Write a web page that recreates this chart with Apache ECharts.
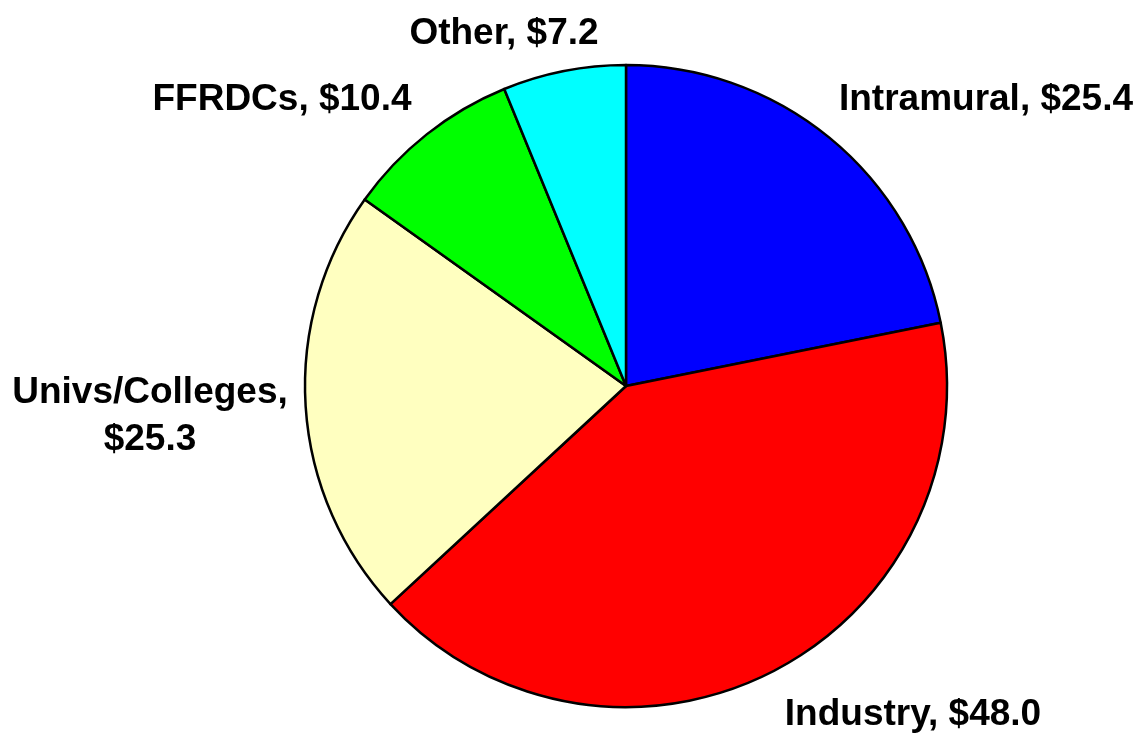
<!DOCTYPE html>
<html>
<head>
<meta charset="utf-8">
<script src="https://cdn.jsdelivr.net/npm/echarts@6/dist/echarts.min.js"></script>
<style>html,body{margin:0;padding:0;background:#fff;}#chart{width:1143px;height:733px;}</style>
</head>
<body>
<div id="chart"></div>
<script>
const categories = ['Intramural', 'Industry', 'Univs/Colleges', 'FFRDCs', 'Other'];
const values = [25.4, 48.0, 25.3, 10.4, 7.2];
const labelTexts = ['Intramural, $25.4', 'Industry, $48.0', 'Univs/Colleges,\n$25.3', 'FFRDCs, $10.4', 'Other, $7.2'];
const colors = ['#0000FF', '#FF0000', '#FFFFC0', '#00FF00', '#00FFFF'];
const labelPos = [[986, 100], [913, 715], [150, 416], [282, 100], [504, 34]];

const chart = echarts.init(document.getElementById('chart'), null, {renderer: 'canvas'});
chart.setOption({
  backgroundColor: '#ffffff',
  animation: false,
  series: [{
    type: 'pie',
    center: [626, 386],
    radius: 321,
    startAngle: 90,
    clockwise: true,
    data: categories.map((c, i) => ({
      name: c, value: values[i],
      itemStyle: {color: colors[i]},
      label: {formatter: labelTexts[i]}
    })),
    itemStyle: {borderColor: '#000', borderWidth: 2.5},
    label: {
      show: true, position: 'outside', color: '#000',
      fontFamily: 'Liberation Sans, Arial, sans-serif', fontWeight: 'bold', fontSize: 37,
      lineHeight: 47, align: 'center', overflow: 'none', width: 400
    },
    labelLine: {show: false},
    labelLayout: function (p) {
      const pos = labelPos[p.dataIndex];
      return {x: pos[0], y: pos[1], align: 'center', verticalAlign: 'middle'};
    },
    emphasis: {disabled: true}
  }]
});
</script>
</body>
</html>
